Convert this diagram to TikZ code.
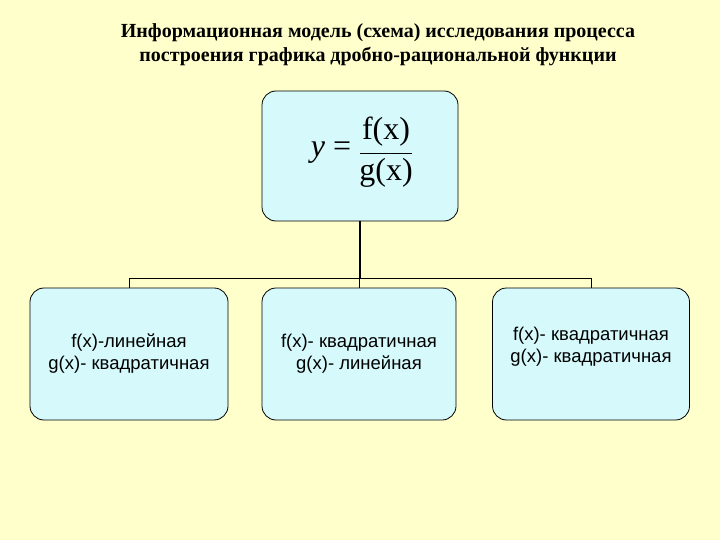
\documentclass[tikz,border=0pt]{standalone}
\usepackage{fontspec}
\setmainfont{Liberation Serif}
\newfontfamily\arial{Liberation Sans}
\begin{document}
\begin{tikzpicture}[x=1pt,y=-1pt,
  box/.style={draw=black,line width=0.8pt,fill=boxcyan,rounded corners=14pt,inner sep=0pt},
  lbl/.style={font=\arial\fontsize{18.5}{22}\selectfont,align=center},
  conn/.style={draw=black,line width=1.2pt}]
\definecolor{bgyellow}{RGB}{255,255,204}
\definecolor{boxcyan}{RGB}{214,250,252}
\fill[bgyellow] (0,0) rectangle (720,540);
\useasboundingbox (0,0) rectangle (720,540);
\node[font=\bfseries\fontsize{20}{24}\selectfont,align=center] (title) at (378,45)
  {Информационная модель (схема) исследования процесса\\построения графика дробно-рациональной функции};
\node[box,minimum width=196pt,minimum height=130pt] (top) at (360,156) {};
\node[font=\fontsize{32}{36}\selectfont] (yeq) at (331,153) {\textit{y} =};
\node[font=\fontsize{32}{36}\selectfont,inner sep=1pt] (num) at (386,132) {f(x)};
\node[font=\fontsize{32}{36}\selectfont,inner sep=1pt] (den) at (386,173) {g(x)};
\draw[line width=0.8pt] (360,153) -- (412,153);
\node[box,minimum width=198pt,minimum height=132pt] (b1) at (129,354) {};
\node[box,minimum width=194pt,minimum height=132pt] (b2) at (359,354) {};
\node[box,minimum width=197pt,minimum height=132pt] (b3) at (591,354) {};
\node[lbl] at (b1) {f(x)-линейная\\g(x)- квадратичная};
\node[lbl] at (b2) {f(x)- квадратичная\\g(x)- линейная};
\node[lbl] at (591,347) {f(x)- квадратичная\\g(x)- квадратичная};
\coordinate (j) at (360,278);
\coordinate (l) at (129,278);
\coordinate (r) at (591,278);
\draw[conn] (top.south) -- (j);
\draw[line width=0.8pt] (l) -- (r);
\draw[line width=0.8pt] (l) -- (b1.north);
\draw[line width=0.8pt] (359,278) -- (b2.north);
\draw[line width=0.8pt] (r) -- (b3.north);
\end{tikzpicture}
\end{document}
